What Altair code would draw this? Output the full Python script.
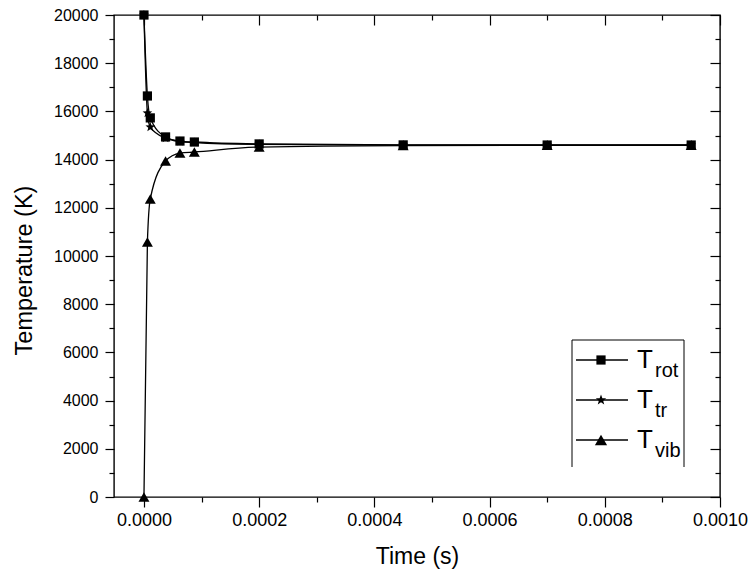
import math
import altair as alt
import pandas as pd

# Relaxation of the rotational, translational and vibrational temperatures
time_s = [0.0, 0.000006, 0.000011, 0.0000375, 0.0000625, 0.0000875,
          0.0002, 0.00045, 0.0007, 0.00095]
t_rot = [20000, 16640, 15730, 14940, 14770, 14730, 14650, 14610, 14605, 14605]
t_tr = [20000, 15930, 15350, 14890, 14750, 14710, 14630, 14600, 14600, 14600]
t_vib = [0, 10580, 12370, 13940, 14270, 14315, 14520, 14580, 14590, 14595]

series_names = ["T_rot", "T_tr", "T_vib"]
series_subs = ["rot", "tr", "vib"]

x_major = [0.0, 0.0002, 0.0004, 0.0006, 0.0008, 0.001]
x_minor = [0.0001, 0.0003, 0.0005, 0.0007, 0.0009]
y_major = list(range(0, 20001, 2000))
y_minor = list(range(1000, 20000, 2000))

rows = []
for name, vals in zip(series_names, [t_rot, t_tr, t_vib]):
    for t, v in zip(time_s, vals):
        rows.append({"series": name, "time": t, "temp": v})
df = pd.DataFrame(rows)

# five-pointed star as a custom symbol path
pts = []
for k in range(10):
    r = 1.0 if k % 2 == 0 else 0.42
    a = -math.pi / 2 + k * math.pi / 5
    pts.append(f"{r * math.cos(a):.3f},{r * math.sin(a):.3f}")
STAR = "M" + " L".join(pts) + " Z"
shapes = ["square", STAR, "triangle-up"]
sizes = [85, 120, 150]

FONT = "Liberation Sans"
x_scale = alt.Scale(domain=[-0.000052, 0.001], nice=False, zero=False)
y_scale = alt.Scale(domain=[0, 20000], nice=False, zero=False)
shape_scale = alt.Scale(domain=series_names, range=shapes)
size_scale = alt.Scale(domain=series_names, range=sizes)


def tick_axis(orient, values, size, offset=0):
    return alt.Axis(orient=orient, values=values, tickSize=size, offset=offset,
                    labels=False, title=None, domain=False, grid=False,
                    tickColor="black", tickWidth=1.2)


base = alt.Chart(df)

lines = base.mark_line(color="black", strokeWidth=1.3, interpolate="monotone").encode(
    x=alt.X("time:Q", scale=x_scale,
            axis=alt.Axis(orient="bottom", values=x_major, format=".4f", tickSize=10,
                          labelFontSize=18, labelPadding=4, labelFlush=False,
                          labelOverlap=False, title="Time (s)", titleFontSize=23,
                          titlePadding=16, domain=False, grid=False,
                          tickColor="black", tickWidth=1.2)),
    y=alt.Y("temp:Q", scale=y_scale,
            axis=alt.Axis(orient="left", values=y_major, format="d", tickSize=9,
                          labelFontSize=16, labelPadding=7, labelFlush=False,
                          labelOverlap=False, title="Temperature (K)", titleFontSize=23.5,
                          titlePadding=17, titleY=255, domain=False, grid=False,
                          tickColor="black", tickWidth=1.2)),
    detail="series:N",
)

points = base.mark_point(filled=True, color="black", opacity=1).encode(
    x=alt.X("time:Q", scale=x_scale, axis=tick_axis("bottom", x_minor, 5)),
    y=alt.Y("temp:Q", scale=y_scale, axis=tick_axis("left", y_minor, 5)),
    shape=alt.Shape("series:N", scale=shape_scale, legend=None),
    size=alt.Size("series:N", scale=size_scale, legend=None),
)

mirror_major = base.mark_point(opacity=0).encode(
    x=alt.X("time:Q", scale=x_scale, axis=tick_axis("top", x_major, 10, -10)),
    y=alt.Y("temp:Q", scale=y_scale, axis=tick_axis("right", y_major, 10, -10)),
)

mirror_minor = base.mark_point(opacity=0).encode(
    x=alt.X("time:Q", scale=x_scale, axis=tick_axis("top", x_minor, 5, -5)),
    y=alt.Y("temp:Q", scale=y_scale, axis=tick_axis("right", y_minor, 5, -5)),
)

# hand-built legend with subscripted labels
one = pd.DataFrame({"k": [0]})
legend_layers = []
box_l, box_r, box_t, box_b = 458, 570, 325, 452
legend_layers.append(alt.Chart(one).mark_rule(color="black", strokeWidth=1).encode(
    x=alt.value(box_l), y=alt.value(box_t), y2=alt.value(box_b)))
legend_layers.append(alt.Chart(one).mark_rule(color="black", strokeWidth=1).encode(
    x=alt.value(box_r), y=alt.value(box_t), y2=alt.value(box_b)))
legend_layers.append(alt.Chart(one).mark_rule(color="black", strokeWidth=1).encode(
    x=alt.value(box_l), x2=alt.value(box_r), y=alt.value(box_t)))

for i, (sub, shp, sz) in enumerate(zip(series_subs, shapes, sizes)):
    row_y = 345 + 40 * i
    legend_layers.append(alt.Chart(one).mark_rule(color="black", strokeWidth=1.3).encode(
        x=alt.value(462), x2=alt.value(514), y=alt.value(row_y)))
    legend_layers.append(alt.Chart(one).mark_point(
        filled=True, color="black", opacity=1, shape=shp, size=sz).encode(
        x=alt.value(487), y=alt.value(row_y)))
    legend_layers.append(alt.Chart(one).mark_text(
        align="left", baseline="alphabetic", font=FONT, fontSize=26, color="black").encode(
        x=alt.value(523), y=alt.value(row_y + 8), text=alt.value("T")))
    legend_layers.append(alt.Chart(one).mark_text(
        align="left", baseline="alphabetic", font=FONT, fontSize=20, color="black").encode(
        x=alt.value(541), y=alt.value(row_y + 17), text=alt.value(sub)))

chart = alt.layer(lines, points, mirror_major, mirror_minor, *legend_layers).resolve_axis(
    x="independent", y="independent"
).properties(
    width=606, height=482,
    padding={"left": 114, "top": 15, "right": 29, "bottom": 78},
    autosize=alt.AutoSizeParams(type="none"),
    background="white",
).configure_view(
    stroke="black", strokeWidth=1.4
).configure_axis(
    labelFont=FONT, titleFont=FONT, labelColor="black", titleColor="black",
    titleFontWeight="normal",
)

chart.save("out.html", embed_options={"renderer": "svg", "actions": False})
